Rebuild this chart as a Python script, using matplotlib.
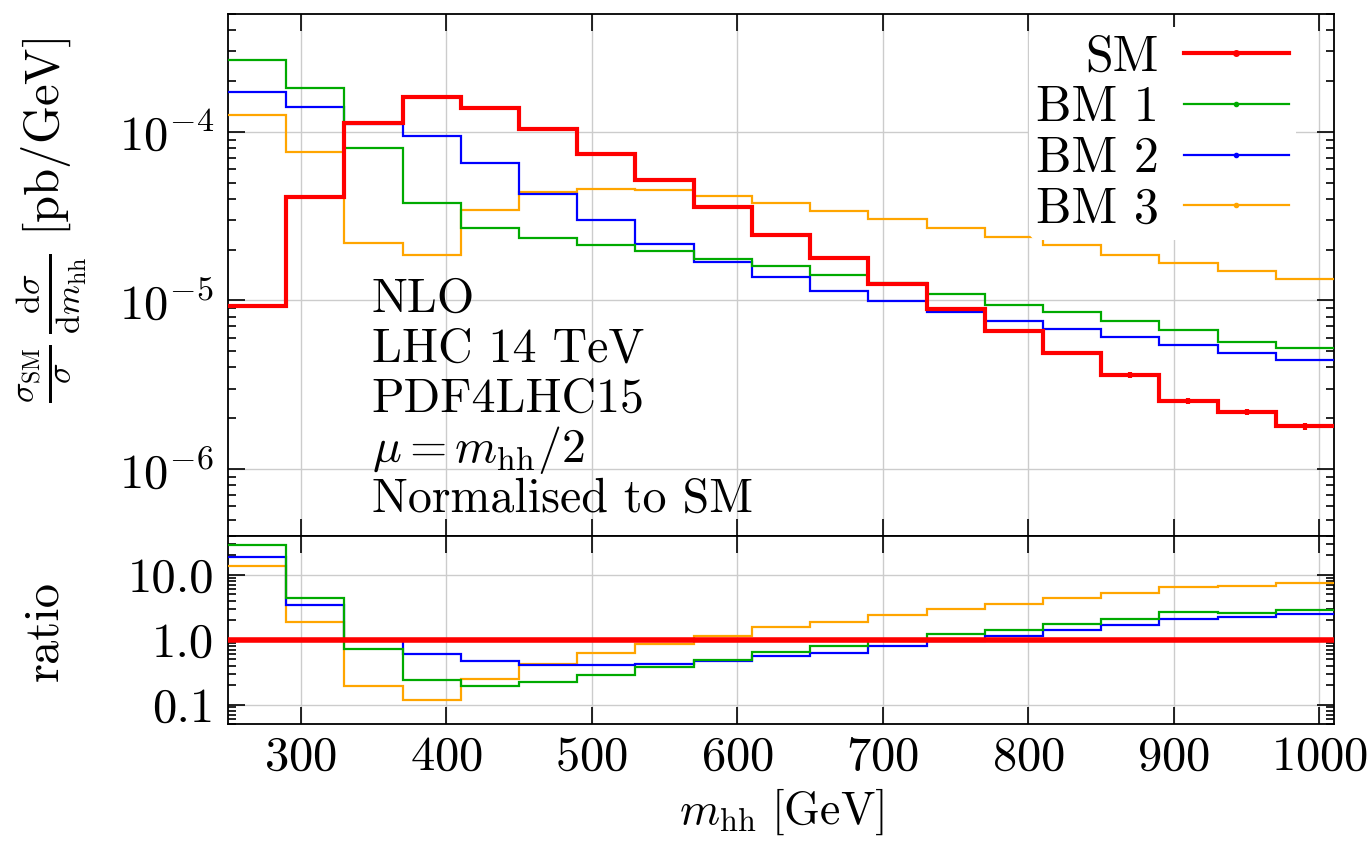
import numpy as np
import matplotlib
matplotlib.use("Agg")
import matplotlib.pyplot as plt
from matplotlib.lines import Line2D
from matplotlib.ticker import LogLocator, FixedLocator, FixedFormatter, NullLocator, NullFormatter

plt.rcParams["font.family"] = "serif"
plt.rcParams["font.serif"] = ["cmr10"]
plt.rcParams["mathtext.fontset"] = "cm"
plt.rcParams["axes.formatter.use_mathtext"] = True

# m_hh binning [GeV]
bin_edges = [250, 290, 330, 370, 410, 450, 490, 530, 570, 610, 650,
             690, 730, 770, 810, 850, 890, 930, 970, 1010]

# normalised differential cross sections [pb/GeV]
sm = [9.2e-6, 4.1e-5, 1.13e-4, 1.60e-4, 1.39e-4, 1.04e-4, 7.4e-5, 5.15e-5,
      3.6e-5, 2.45e-5, 1.78e-5, 1.25e-5, 8.9e-6, 6.6e-6, 4.85e-6, 3.6e-6,
      2.54e-6, 2.18e-6, 1.79e-6]
sm_err = [1e-7, 3e-7, 6e-7, 8e-7, 7e-7, 5e-7, 4e-7, 3e-7, 2e-7, 1.5e-7,
          1.2e-7, 1e-7, 1e-7, 1.2e-7, 1.3e-7, 1.4e-7, 1.1e-7, 0.9e-7, 0.8e-7]
bm1 = [2.68e-4, 1.81e-4, 8.0e-5, 3.8e-5, 2.68e-5, 2.35e-5, 2.14e-5, 1.96e-5,
       1.76e-5, 1.59e-5, 1.41e-5, 1.26e-5, 1.09e-5, 9.4e-6, 8.5e-6, 7.55e-6,
       6.7e-6, 5.7e-6, 5.2e-6]
bm2 = [1.72e-4, 1.40e-4, 1.12e-4, 9.5e-5, 6.5e-5, 4.3e-5, 2.98e-5, 2.16e-5,
       1.68e-5, 1.37e-5, 1.13e-5, 9.85e-6, 8.5e-6, 7.5e-6, 6.75e-6, 6.1e-6,
       5.4e-6, 4.85e-6, 4.45e-6]
bm3 = [1.26e-4, 7.6e-5, 2.2e-5, 1.87e-5, 3.45e-5, 4.4e-5, 4.6e-5, 4.5e-5,
       4.15e-5, 3.8e-5, 3.4e-5, 3.05e-5, 2.68e-5, 2.38e-5, 2.12e-5, 1.87e-5,
       1.67e-5, 1.5e-5, 1.33e-5]

series = [
    ("SM", sm, "#ff0000", 3.0),
    ("BM 1", bm1, "#00aa00", 1.6),
    ("BM 2", bm2, "#0000ff", 1.6),
    ("BM 3", bm3, "#ffa500", 1.6),
]

x_ticks = [300, 400, 500, 600, 700, 800, 900, 1000]
ratio_ticks = [0.1, 1.0, 10.0]
ratio_labels = ["0.1", "1.0", "10.0"]
info_lines = ["NLO", "LHC 14 TeV", "PDF4LHC15", r"$\mu = m_{\rm hh}/2$",
              "Normalised to SM"]

FS = 35
W, H = 1372, 849
fig = plt.figure(figsize=(W / 100, H / 100), dpi=100)
left, right = 228 / W, 1334 / W
ax = fig.add_axes([left, 1 - 536 / H, right - left, (536 - 14) / H])
axr = fig.add_axes([left, 1 - 724 / H, right - left, (724 - 536) / H], sharex=ax)

edges = np.array(bin_edges, dtype=float)
centers = 0.5 * (edges[:-1] + edges[1:])
sm_arr = np.array(sm)

for name, vals, col, lw in series[::-1]:
    v = np.array(vals)
    z = 5 if name == "SM" else 3
    ax.stairs(v, edges, baseline=None, color=col, lw=lw, zorder=z)
    axr.stairs(v / sm_arr, edges, baseline=None, color=col,
               lw=(4.0 if name == "SM" else lw), zorder=z)

ax.errorbar(centers, sm_arr, yerr=sm_err, fmt="none", ecolor="#ff0000",
            elinewidth=3, capsize=0, zorder=6)

handles = []
for name, vals, col, lw in series:
    handles.append(Line2D([0, 1, 2], [0, 0, 0], color=col, lw=lw, marker="o",
                          markersize=3 if name != "SM" else 4,
                          markevery=[1], label=name))

for a in (ax, axr):
    a.set_xlim(250, 1010)
    a.set_yscale("log")
    a.xaxis.set_major_locator(FixedLocator(x_ticks))
    a.xaxis.set_minor_locator(NullLocator())
    a.grid(True, which="major", color="#cccccc", lw=1.0, zorder=0)
    a.tick_params(which="both", direction="in", top=True, right=True,
                  labelsize=FS, width=1.2)
    a.tick_params(which="major", length=12)
    a.tick_params(which="minor", length=6)
    for s in a.spines.values():
        s.set_linewidth(1.3)
    a.set_axisbelow(True)

ax.set_ylim(4e-7, 5e-4)
ax.yaxis.set_major_locator(LogLocator(base=10, numticks=10))
ax.yaxis.set_minor_locator(LogLocator(base=10, subs=np.arange(2, 10), numticks=20))
ax.yaxis.set_minor_formatter(NullFormatter())
ax.tick_params(axis="x", labelbottom=False)
ax.tick_params(axis="y", pad=10)

axr.set_ylim(0.05, 40)
axr.yaxis.set_major_locator(FixedLocator(ratio_ticks))
axr.yaxis.set_major_formatter(FixedFormatter(ratio_labels))
axr.yaxis.set_minor_locator(LogLocator(base=10, subs=np.arange(2, 10), numticks=20))
axr.yaxis.set_minor_formatter(NullFormatter())
axr.tick_params(axis="y", pad=10)
axr.tick_params(axis="x", pad=8)

ax.set_ylabel(r"$\frac{\sigma_{\rm SM}}{\sigma}\,\frac{{\rm d}\sigma}{{\rm d}m_{\rm hh}}\ [{\rm pb/GeV}]$",
              fontsize=FS, va="center")
ax.yaxis.set_label_coords(-0.159, 0.605)
axr.set_ylabel("ratio", fontsize=FS, va="center")
axr.yaxis.set_label_coords(-0.165, 0.495)
axr.set_xlabel(r"$m_{\rm hh}\ [{\rm GeV}]$", fontsize=33, labelpad=5)

baselines = [312, 362, 412, 462, 512]
for txt, b in zip(info_lines, baselines):
    ax.text(0.130, (536 - b) / 522, txt, transform=ax.transAxes,
            fontsize=34.5, va="baseline", ha="left", zorder=7)

leg = ax.legend(handles=handles, loc="upper right", bbox_to_anchor=(0.966, 0.975),
                fontsize=36, markerfirst=False, frameon=True, framealpha=1,
                facecolor="white", edgecolor="none", handlelength=2.1,
                handletextpad=0.5, labelspacing=0.1, borderpad=0.15,
                borderaxespad=0.0)
leg.set_zorder(8)

fig.savefig("out.png", dpi=100)
